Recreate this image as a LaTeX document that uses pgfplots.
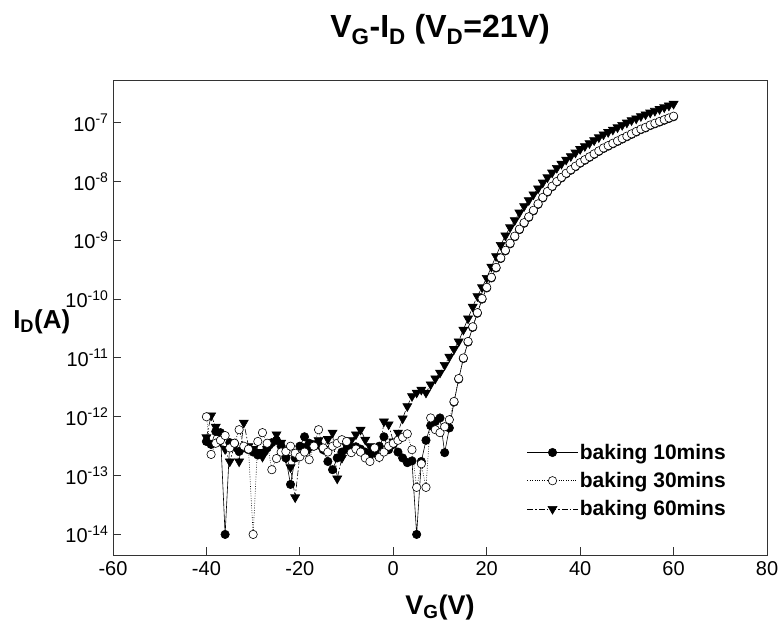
\documentclass[border=0pt]{standalone}
\usepackage{pgfplots}
\pgfplotsset{compat=1.18}
\usepackage{pgfplotstable}
\usepackage{fontspec}
\setmainfont{Liberation Sans}

\pgfplotstableread{
x y
-40 -12.42
-39 -12.47
-38 -12.25
-37 -12.27
-36 -14.00
-35 -12.44
-34 -12.45
-33 -12.59
-32 -12.53
-31 -12.56
-30 -12.60
-29 -12.65
-28 -12.62
-27 -12.53
-26 -12.44
-25 -12.40
-24 -12.50
-23 -12.70
-22 -13.15
-21 -12.70
-20 -12.50
-19 -12.34
-18 -12.45
-17 -12.50
-16 -12.48
-15 -12.56
-14 -12.76
-13 -12.90
-12 -12.70
-11 -12.60
-10 -12.55
-9 -12.53
-8 -12.51
-7 -12.55
-6 -12.60
-5 -12.65
-4 -12.60
-3 -12.50
-2 -12.34
-1 -12.56
0 -12.47
1 -12.60
2 -12.70
3 -12.78
4 -12.75
5 -14.00
6 -12.76
7 -12.40
8 -12.15
9 -12.08
10 -12.02
11 -12.61
12 -12.19
13 -11.75
14 -11.36
15 -11.01
16 -10.73
17 -10.48
18 -10.24
19 -10.00
20 -9.81
21 -9.64
22 -9.47
23 -9.31
24 -9.18
25 -9.06
26 -8.94
27 -8.82
28 -8.71
29 -8.61
30 -8.50
31 -8.39
32 -8.28
33 -8.18
34 -8.09
35 -8.01
36 -7.94
37 -7.87
38 -7.81
39 -7.75
40 -7.69
41 -7.64
42 -7.59
43 -7.54
44 -7.49
45 -7.44
46 -7.40
47 -7.36
48 -7.32
49 -7.28
50 -7.24
51 -7.20
52 -7.16
53 -7.12
54 -7.09
55 -7.05
56 -7.02
57 -6.99
58 -6.96
59 -6.93
60 -6.90
}\tenmin

\pgfplotstableread{
x y
-40 -12.00
-39 -12.64
-38 -12.45
-37 -12.40
-36 -12.32
-35 -12.53
-34 -12.45
-33 -12.22
-32 -12.50
-31 -12.55
-30 -14.00
-29 -12.42
-28 -12.27
-27 -12.45
-26 -12.90
-25 -12.71
-24 -12.60
-23 -12.59
-22 -12.50
-21 -12.62
-20 -12.68
-19 -12.60
-18 -12.73
-17 -12.50
-16 -12.22
-15 -12.53
-14 -12.60
-13 -12.50
-12 -12.45
-11 -12.39
-10 -12.42
-9 -12.61
-8 -12.55
-7 -12.60
-6 -12.70
-5 -12.76
-4 -12.53
-3 -12.69
-2 -12.60
-1 -12.50
0 -12.45
1 -12.40
2 -12.35
3 -12.29
4 -12.56
5 -13.20
6 -12.80
7 -13.20
8 -12.02
9 -12.22
10 -12.27
11 -12.17
12 -12.05
13 -11.74
14 -11.35
15 -11.00
16 -10.72
17 -10.47
18 -10.23
19 -9.99
20 -9.80
21 -9.63
22 -9.46
23 -9.30
24 -9.17
25 -9.05
26 -8.93
27 -8.81
28 -8.70
29 -8.60
30 -8.49
31 -8.38
32 -8.27
33 -8.17
34 -8.08
35 -8.00
36 -7.93
37 -7.86
38 -7.80
39 -7.74
40 -7.68
41 -7.63
42 -7.58
43 -7.53
44 -7.48
45 -7.43
46 -7.39
47 -7.35
48 -7.31
49 -7.27
50 -7.23
51 -7.19
52 -7.15
53 -7.11
54 -7.08
55 -7.04
56 -7.01
57 -6.98
58 -6.95
59 -6.92
60 -6.89
}\thirtymin

\pgfplotstableread{
x y
-40 -12.35
-39 -11.98
-38 -12.17
-37 -12.42
-36 -12.55
-35 -12.76
-34 -12.50
-33 -12.76
-32 -12.10
-31 -12.50
-30 -12.55
-29 -12.60
-28 -12.68
-27 -12.55
-26 -12.45
-25 -12.30
-24 -12.44
-23 -12.70
-22 -12.86
-21 -13.37
-20 -12.64
-19 -12.50
-18 -12.55
-17 -12.45
-16 -12.40
-15 -12.55
-14 -12.38
-13 -12.27
-12 -13.05
-11 -12.70
-10 -12.50
-9 -12.40
-8 -12.30
-7 -12.22
-6 -12.39
-5 -12.50
-4 -12.60
-3 -12.68
-2 -12.08
-1 -12.13
0 -12.42
1 -12.27
2 -12.03
3 -11.82
4 -11.65
5 -11.59
6 -11.54
7 -11.59
8 -11.45
9 -11.35
10 -11.25
11 -11.12
12 -10.98
13 -10.85
14 -10.72
15 -10.52
16 -10.33
17 -10.13
18 -9.95
19 -9.80
20 -9.64
21 -9.45
22 -9.27
23 -9.08
24 -8.92
25 -8.78
26 -8.66
27 -8.53
28 -8.42
29 -8.32
30 -8.22
31 -8.12
32 -8.02
33 -7.93
34 -7.85
35 -7.77
36 -7.70
37 -7.63
38 -7.57
39 -7.51
40 -7.45
41 -7.40
42 -7.35
43 -7.30
44 -7.25
45 -7.20
46 -7.16
47 -7.12
48 -7.08
49 -7.04
50 -7.00
51 -6.96
52 -6.93
53 -6.89
54 -6.86
55 -6.83
56 -6.80
57 -6.77
58 -6.74
59 -6.71
60 -6.68
}\sixtymin

\begin{document}
\begin{tikzpicture}
\begin{axis}[
  name=ax,
  scale only axis,
  width=654pt, height=475pt,
  xmin=-60, xmax=80,
  ymin=-14.35, ymax=-6.275,
  xtick={-60,-40,-20,0,20,40,60,80},
  xticklabels={-60,-40,-20,0,20,40,60,80},
  ytick={-14,-13,-12,-11,-10,-9,-8,-7},
  yticklabels={10\textsuperscript{-14},10\textsuperscript{-13},10\textsuperscript{-12},10\textsuperscript{-11},10\textsuperscript{-10},10\textsuperscript{-9},10\textsuperscript{-8},10\textsuperscript{-7}},
  tick pos=left,
  tick align=inside,
  major tick length=8pt,
  axis line style={line width=0.9pt, black!80},
  every tick/.style={line width=0.9pt, black!80},
  ticklabel style={font=\fontsize{20}{22}\selectfont},
  xticklabel style={yshift=-3pt},
  yticklabel style={xshift=-1pt},
  title={\bfseries V\textsubscript{G}-I\textsubscript{D} (V\textsubscript{D}=21V)},
  title style={font=\fontsize{32}{34}\selectfont, at={(axis description cs:0.5,1)}, anchor=south, yshift=26pt},
  xlabel={\bfseries V\textsubscript{G}(V)},
  ylabel={\bfseries I\textsubscript{D}(A)},
  every axis x label/.style={at={(axis description cs:0.5,-0.11)}, anchor=center, font=\fontsize{27}{29}\selectfont},
  every axis y label/.style={at={(axis description cs:-0.06,0.49)}, anchor=east, font=\fontsize{26}{28}\selectfont},
  legend style={draw=none, fill=none, at={(axis description cs:0.633,0.238)}, anchor=north west,
    font=\bfseries\fontsize{21}{23}\selectfont, row sep=7.5pt, inner sep=0pt},
  legend cell align=left,
  legend image code/.code={\draw[mark repeat=2,mark phase=2] plot coordinates {(0cm,0cm) (0.88cm,0cm) (1.76cm,0cm)};},
]
\addlegendimage{black, line width=0.6pt, mark=*, mark size=4.2pt, mark options={solid, fill=black}}
\addlegendentry{baking 10mins}
\addlegendimage{black, line width=0.6pt, dash pattern=on 0.8pt off 1.6pt, mark=*, mark size=4.2pt, mark options={solid, fill=white}}
\addlegendentry{baking 30mins}
\addlegendimage{black, line width=0.6pt, dash pattern=on 6pt off 2pt on 1.5pt off 2pt, mark=triangle*, mark size=5.2pt, mark options={solid, fill=black, rotate=180}}
\addlegendentry{baking 60mins}

\addplot[forget plot, black, line width=0.6pt, dash pattern=on 6pt off 2pt on 1.5pt off 2pt, mark=triangle*, mark size=5.2pt, mark options={solid, fill=black, rotate=180}] table[x=x,y=y] {\sixtymin};
\addplot[forget plot, black, line width=0.6pt, mark=*, mark size=4.2pt, mark options={solid, fill=black}] table[x=x,y=y] {\tenmin};
\addplot[forget plot, black, line width=0.6pt, dash pattern=on 0.8pt off 1.6pt, mark=*, mark size=4.2pt, mark options={solid, fill=white}] table[x=x,y=y] {\thirtymin};
\end{axis}
\pgfresetboundingbox
\path ([xshift=-113pt,yshift=-79pt]ax.south west) rectangle ([xshift=16pt,yshift=80pt]ax.north east);
\end{tikzpicture}
\end{document}
